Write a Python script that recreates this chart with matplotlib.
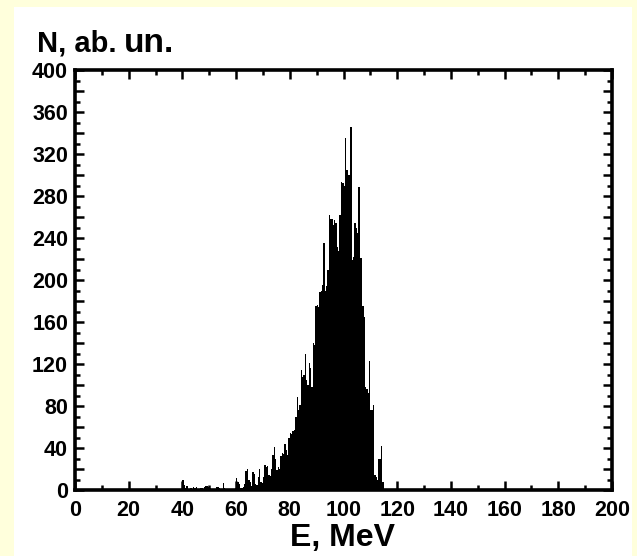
import matplotlib
matplotlib.use("Agg")
import matplotlib.pyplot as plt
from matplotlib.ticker import MultipleLocator, FuncFormatter
from matplotlib.patches import Rectangle

# ---- data: histogram of counts, 0.5 MeV bins starting at 40 MeV ----
bin_start = 40.0
bin_width = 0.5
counts = [
    10, 5, 2, 4, 0, 0, 2, 0, 3, 2,        # 40.0 - 44.5
    3, 0, 0, 2, 2, 0, 3, 4, 4, 3,         # 45.0 - 49.5
    2, 0, 0, 0, 0, 3, 3, 2, 0, 0,         # 50.0 - 54.5
    7, 2, 0, 0, 0, 0, 0, 1, 0, 2,         # 55.0 - 59.5
    11, 8, 6, 2, 2, 3, 6, 18, 20, 10,     # 60.0 - 64.5
    8, 4, 17, 15, 6, 5, 12, 20, 8, 7,     # 65.0 - 69.5
    12, 24, 22, 23, 14, 13, 20, 33, 41, 30,   # 70.0 - 74.5
    19, 22, 20, 32, 35, 34, 44, 38, 33, 50,   # 75.0 - 79.5
    54, 53, 56, 57, 70, 89, 76, 81, 114, 108,  # 80.0 - 84.5
    110, 130, 105, 100, 121, 116, 98, 140, 138, 175,  # 85.0 - 89.5
    176, 174, 189, 190, 195, 235, 190, 194, 210, 262,  # 90.0 - 94.5
    258, 258, 252, 257, 254, 231, 228, 262, 293, 292,  # 95.0 - 99.5
    290, 335, 305, 300, 300, 346, 219, 222, 254, 250,  # 100.0 - 104.5
    245, 289, 221, 221, 175, 165, 98, 96, 92, 123,     # 105.0 - 109.5
    76, 76, 81, 14, 12, 10, 30, 30, 42, 8,             # 110.0 - 114.5
]
edges = [bin_start + i * bin_width for i in range(len(counts))]

x_label = "E, MeV"
y_label_a = "N, ab."
y_label_b = "un."
x_range = (0, 200)
y_range = (0, 400)

W, H = 637, 556
fig = plt.figure(figsize=(W / 100, H / 100), dpi=100)
fig.patch.set_facecolor("#FFFFDC")
# white panel
fig.patches.append(Rectangle((14 / W, 0), (632 - 14) / W, 1 - 7 / H,
                             transform=fig.transFigure, facecolor="white",
                             edgecolor="none", zorder=-10))

ax = fig.add_axes([75 / W, 1 - 490 / H, (612 - 75) / W, (490 - 70) / H])
ax.set_zorder(5)
ax.set_facecolor("white")
ax.bar(edges, counts, width=bin_width, align="edge", color="black",
       linewidth=0, antialiased=True)

ax.set_xlim(*x_range)
ax.set_ylim(*y_range)

fam = ["Liberation Sans", "DejaVu Sans"]
ax.xaxis.set_major_locator(MultipleLocator(20))
ax.xaxis.set_minor_locator(MultipleLocator(10))
ax.yaxis.set_major_locator(MultipleLocator(20))
ax.yaxis.set_minor_locator(MultipleLocator(10))
ax.yaxis.set_major_formatter(FuncFormatter(lambda v, p: f"{int(v)}" if int(round(v)) % 40 == 0 else ""))

ax.tick_params(which="both", direction="in", top=True, right=True,
               width=1.8, color="black")
ax.tick_params(which="major", length=6.5)
ax.tick_params(which="minor", length=3.5)
ax.tick_params(axis="x", which="major", pad=7)
ax.tick_params(axis="y", which="major", pad=5)
for lbl in ax.get_xticklabels() + ax.get_yticklabels():
    lbl.set_fontfamily(fam)
    lbl.set_fontweight("bold")
    lbl.set_fontsize(15.5)

for s in ax.spines.values():
    s.set_linewidth(2.6)
    s.set_color("black")

fig.text(343 / W, 1 - 546 / H, x_label, ha="center", va="baseline",
         fontsize=23, fontweight="bold", family=fam, zorder=10)
ta = fig.text(37 / W, 1 - 52 / H, y_label_a, ha="left", va="baseline",
              fontsize=21, fontweight="bold", family=fam, zorder=10)
fig.canvas.draw()
bb = ta.get_window_extent()
fig.text((bb.x1 + 7) / W, 1 - 52 / H, y_label_b, ha="left", va="baseline",
         fontsize=24, fontweight="bold", family=fam, zorder=10)

fig.savefig("out.png", dpi=100, facecolor=fig.get_facecolor())
